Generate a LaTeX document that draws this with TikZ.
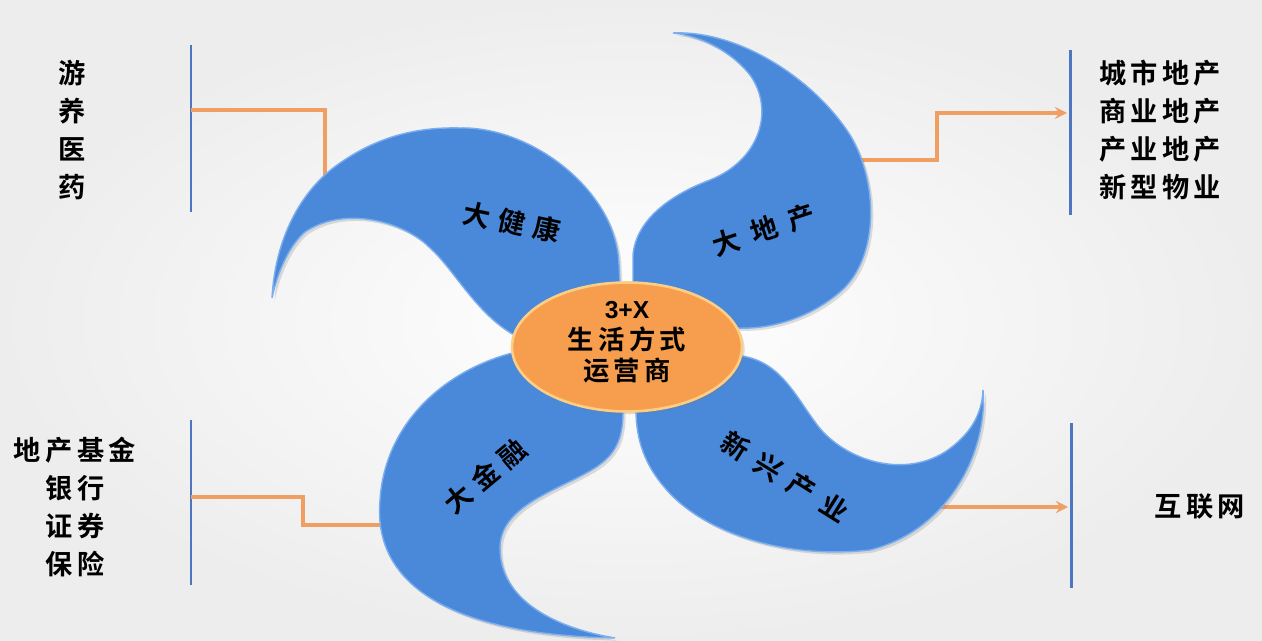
\documentclass[tikz,border=0pt]{standalone}
\usepackage{fontspec}
\setsansfont{Liberation Sans}
\newfontfamily\cjk[LetterSpace=16]{Noto Sans CJK SC Bold}
\usetikzlibrary{shapes.geometric,shadows}

\definecolor{petalblue}{RGB}{74,136,218}
\definecolor{petalrim}{RGB}{122,174,238}
\definecolor{coreorange}{RGB}{246,158,78}
\definecolor{corerim}{RGB}{252,206,132}
\definecolor{barblue}{RGB}{78,118,192}
\definecolor{linkorange}{RGB}{240,158,98}

\begin{document}
\begin{tikzpicture}[x=0.02cm,y=-0.02cm,
    petal/.style={fill=petalblue,draw=petalrim,line width=0.8pt,
      drop shadow={opacity=0.25,shadow xshift=1.5pt,shadow yshift=-1.5pt}},
    core/.style={ellipse,fill=coreorange,draw=corerim,line width=1.5pt,
      minimum width=4.6cm,minimum height=2.58cm,
      drop shadow={opacity=0.25,shadow xshift=1.5pt,shadow yshift=-1.5pt}},
    bar/.style={draw=barblue,line width=1.7pt},
    link/.style={draw=linkorange,line width=2pt},
    arr/.style={link,>=stealth,->},
    item/.style={font=\cjk\fontsize{15.5}{21.5}\selectfont,align=center,inner sep=0pt},
    tag/.style={font=\cjk\fontsize{15.5}{18}\selectfont\addfontfeature{LetterSpace=30},inner sep=0pt},
    wide tag/.style={tag,font=\cjk\fontsize{15.5}{18}\selectfont\addfontfeature{LetterSpace=44}},
    coretxt/.style={font=\cjk\fontsize{15}{17.6}\selectfont,align=center,inner sep=0pt}]

  \useasboundingbox (0,0) rectangle (1262,641);
  \clip (0,0) rectangle (1262,641);
  \shade[inner color=white,outer color=gray!14] (0,0) rectangle (1262,641);

  % bars
  \coordinate (hlth-top) at (191,45);   \coordinate (hlth-bot) at (191,212);
  \coordinate (prop-top) at (1070,50);  \coordinate (prop-bot) at (1070,215);
  \coordinate (fin-top) at (191,420);   \coordinate (fin-bot) at (191,585);
  \coordinate (new-top) at (1071,423);  \coordinate (new-bot) at (1071,588);
  \draw[bar] (hlth-top) -- (hlth-bot);
  \draw[bar] (prop-top) -- (prop-bot);
  \draw[bar] (fin-top) -- (fin-bot);
  \draw[bar] (new-top) -- (new-bot);

  % connector ends
  \coordinate (hlth-out) at (325,185);  \coordinate (hlth-bar) at (191,110);
  \coordinate (prop-out) at (860,160);  \coordinate (prop-step) at (937,160);
  \coordinate (prop-bar) at (1067,113);
  \coordinate (fin-out) at (392,525);   \coordinate (fin-step) at (303,525);
  \coordinate (fin-bar) at (191,497);
  \coordinate (new-out) at (930,507);   \coordinate (new-bar) at (1068,507);

  \draw[link] (hlth-out) |- (hlth-bar);
  \draw[arr] (prop-out) -- (prop-step) |- (prop-bar);
  \draw[link] (fin-out) -- (fin-step) |- (fin-bar);
  \draw[arr] (new-out) -- (new-bar);

  % petals
  \draw[petal] (272,298) .. controls (275,240) and (300,190) .. (340,163)
    .. controls (380,135) and (420,127) .. (460,128)
    .. controls (530,126) and (617,190) .. (619,265)
    -- (622,320) -- (560,350) -- (520,338)
    .. controls (478,318) and (455,270) .. (430,248)
    .. controls (405,222) and (345,205) .. (305,232)
    .. controls (290,245) and (278,270) .. cycle;
  \draw[petal] (673,33) .. controls (740,30) and (815,80) .. (850,135)
    .. controls (880,185) and (878,260) .. (840,292)
    .. controls (810,318) and (770,330) .. (735,328)
    -- (690,330) -- (633,300) -- (633,255)
    .. controls (636,220) and (670,195) .. (710,180)
    .. controls (760,160) and (775,110) .. (750,75)
    .. controls (730,50) and (700,36) .. cycle;
  \draw[petal] (983,390) .. controls (988,450) and (950,530) .. (870,550)
    .. controls (780,560) and (700,530) .. (665,488)
    .. controls (645,465) and (636,440) .. (636,410)
    -- (645,380) -- (720,360) -- (742,356)
    .. controls (780,362) and (795,395) .. (815,422)
    .. controls (840,458) and (900,480) .. (945,452)
    .. controls (970,435) and (982,415) .. cycle;
  \draw[petal] (623,412) -- (600,360) -- (525,350)
    .. controls (450,365) and (385,420) .. (380,500)
    .. controls (372,590) and (460,635) .. (615,638)
    .. controls (555,628) and (500,600) .. (500,548)
    .. controls (500,505) and (560,490) .. (595,468)
    .. controls (615,455) and (623,440) .. cycle;

  \node[tag,rotate=-12] (hlth) at (512,222) {大健康};
  \node[wide tag,rotate=18] (prop) at (764,230) {大地产};
  \node[tag,rotate=40] (fin) at (485,476) {大金融};
  \node[wide tag,rotate=-32] (new) at (785,477) {新兴产业};

  % centre
  \node[core] (core) at (627,347) {};
  \node[coretxt] (core-txt) at (627,342)
    {{\sffamily\bfseries\fontsize{14}{16}\selectfont 3+X}\\生活方式\\运营商};

  % lists
  \node[item] (hlth-list) at (72,130) {游\\养\\医\\药};
  \node[item] (prop-list) at (1160,130) {城市地产\\商业地产\\产业地产\\新型物业};
  \node[item] (fin-list) at (75,507) {地产基金\\银行\\证券\\保险};
  \node[item] (new-list) at (1200,507) {互联网};

\end{tikzpicture}
\end{document}
